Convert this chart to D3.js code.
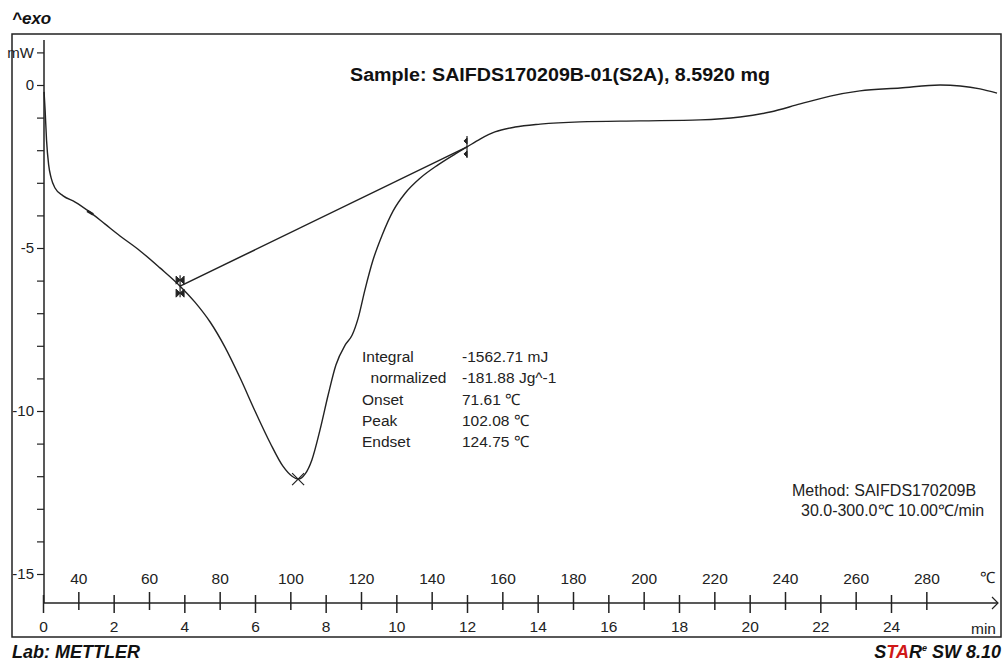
<!DOCTYPE html>
<html>
<head>
<meta charset="utf-8">
<script src="https://cdn.jsdelivr.net/npm/d3@7"></script>
<style>
  body { margin: 0; background: #fff; }
  svg { display: block; font-family: Arial, "Liberation Sans", sans-serif; }
</style>
</head>
<body>
<svg width="1005" height="661"></svg>
<script>
// DSC curve, time in min, heat flow in mW
var timeMin = [0.03, 0.06, 0.10, 0.16, 0.23, 0.34, 0.57, 0.91, 1.33, 1.75, 2.18, 2.75, 3.31, 3.88,
  4.30, 4.73, 5.15, 5.58, 6.00, 6.43, 6.79, 7.05, 7.22, 7.42, 7.61, 7.84, 8.07, 8.29, 8.55, 8.75,
  8.92, 9.11, 9.34, 9.60, 9.91, 10.25, 10.67, 11.18, 11.66, 12.00, 12.37, 12.79, 13.36, 14.07,
  15.2, 16.9, 18.6, 19.73, 20.58, 21.43, 22.28, 23.12, 24.26, 25.39, 25.96, 26.52, 27.0];
var heatFlow = [-0.21, -0.77, -1.69, -2.45, -2.85, -3.16, -3.40, -3.59, -3.90, -4.26, -4.63, -5.09, -5.61, -6.17,
  -6.66, -7.27, -8.04, -8.99, -10.0, -10.98, -11.69, -12.0, -12.09, -11.93, -11.5, -10.58, -9.51, -8.59, -7.98, -7.67,
  -7.15, -6.29, -5.37, -4.60, -3.86, -3.32, -2.86, -2.45, -2.12, -1.90, -1.66, -1.44, -1.29, -1.20,
  -1.13, -1.10, -1.07, -0.98, -0.83, -0.58, -0.34, -0.18, -0.09, 0.0, -0.03, -0.12, -0.25];

var limitTime = [3.88, 12.0];
var limitFlow = [-6.17, -1.90];
var peakTime = 7.22, peakFlow = -12.09;

var timeTicks = d3.range(0, 26, 2);
var tempTicks = d3.range(40, 300, 20);
var flowTicks = d3.range(-15, 2, 1);

var resultLabels = ["Integral", "  normalized", "Onset", "Peak", "Endset"];
var resultValues = ["-1562.71 mJ", "-181.88 Jg^-1", "71.61 \u2103", "102.08 \u2103", "124.75 \u2103"];

var svg = d3.select("svg");
var ink = "#222";

var x = d3.scaleLinear().domain([0, 27]).range([43, 997]);
var xT = d3.scaleLinear().domain([30, 300]).range([43, 997]);
var y = d3.scaleLinear().domain([0, -15]).range([85, 574]);

// frame
svg.append("rect")
  .attr("x", 12).attr("y", 34).attr("width", 989).attr("height", 603)
  .attr("fill", "none").attr("stroke", ink).attr("stroke-width", 1.5);

// y axis
var yAxis = d3.axisLeft(y).tickValues(flowTicks).tickSize(7)
  .tickFormat(function(d){ return d === 1 ? "mW" : (d % 5 === 0 ? d : ""); });
var gy = svg.append("g").attr("transform", "translate(44,0)").call(yAxis);
gy.select(".domain").remove();
gy.selectAll("line").attr("stroke", ink).attr("stroke-width", 1.2);
gy.selectAll("text").attr("fill", ink).style("font-size", "15px").attr("x", -10);
svg.append("line").attr("x1", 44).attr("x2", 44).attr("y1", 40).attr("y2", 603)
  .attr("stroke", ink).attr("stroke-width", 1.5);

// x axes
var axY = 603;
svg.append("line").attr("x1", 43).attr("x2", 998).attr("y1", axY).attr("y2", axY)
  .attr("stroke", ink).attr("stroke-width", 1.5);
svg.append("path").attr("d", "M992,597 L998,603 L992,609")
  .attr("fill", "none").attr("stroke", ink).attr("stroke-width", 1.2);

var gx = svg.append("g").attr("transform", "translate(0," + axY + ")")
  .call(d3.axisBottom(x).tickValues(timeTicks).tickSize(10).tickPadding(8));
gx.select(".domain").remove();
gx.selectAll("line").attr("y1", -8).attr("y2", 10).attr("stroke", ink).attr("stroke-width", 1.5);
gx.selectAll("text").attr("fill", ink).style("font-size", "15.5px");

var gt = svg.append("g").attr("transform", "translate(0," + axY + ")")
  .call(d3.axisTop(xT).tickValues(tempTicks).tickSize(11).tickPadding(8));
gt.select(".domain").remove();
gt.selectAll("line").attr("y1", -11).attr("y2", 7).attr("stroke", ink).attr("stroke-width", 1.5);
gt.selectAll("text").attr("fill", ink).style("font-size", "15.5px");

svg.append("text").attr("x", 987).attr("y", 583).attr("text-anchor", "middle")
  .attr("fill", ink).style("font-size", "15.5px").text("\u2103");
svg.append("text").attr("x", 996).attr("y", 634).attr("text-anchor", "end")
  .attr("fill", ink).style("font-size", "15.5px").text("min");

// baseline between integration limits
svg.append("line")
  .attr("x1", x(limitTime[0])).attr("y1", y(limitFlow[0]))
  .attr("x2", x(limitTime[1])).attr("y2", y(limitFlow[1]))
  .attr("stroke", ink).attr("stroke-width", 1.5);

// curve
var line = d3.line().x(function(d){ return x(d[0]); }).y(function(d){ return y(d[1]); })
  .curve(d3.curveMonotoneX);
svg.append("path").datum(d3.zip(timeMin, heatFlow))
  .attr("d", line).attr("fill", "none").attr("stroke", ink).attr("stroke-width", 1.4);

// small tangent mark on the pre-melt slope
svg.append("line")
  .attr("x1", x(1.25)).attr("y1", y(-3.86)).attr("x2", x(1.42)).attr("y2", y(-3.97))
  .attr("stroke", ink).attr("stroke-width", 2.6);

// limit markers
limitTime.forEach(function(t, i){
  var cx = x(t), cy = y(limitFlow[i]);
  svg.append("line").attr("x1", cx).attr("x2", cx).attr("y1", cy - 11).attr("y2", cy + 11)
    .attr("stroke", ink).attr("stroke-width", 1.2);
  [-6, 7].forEach(function(dy){
    var yy = cy + dy, s = i === 0 ? 4 : 3;
    var p = i === 0
      ? "M" + (cx - s) + "," + (yy - s) + " L" + cx + "," + yy + " L" + (cx - s) + "," + (yy + s) + "Z" +
        "M" + (cx + s) + "," + (yy - s) + " L" + cx + "," + yy + " L" + (cx + s) + "," + (yy + s) + "Z"
      : "M" + cx + "," + (yy - s) + " L" + (cx - s) + "," + yy + " L" + cx + "," + (yy + s) + "Z";
    svg.append("path").attr("d", p).attr("fill", ink).attr("stroke", ink).attr("stroke-width", 1);
  });
});

// peak cross
var px = x(peakTime), py = y(peakFlow);
svg.append("path")
  .attr("d", "M" + (px - 6) + "," + (py - 6) + "L" + (px + 6) + "," + (py + 6) +
             "M" + (px - 6) + "," + (py + 6) + "L" + (px + 6) + "," + (py - 6))
  .attr("stroke", ink).attr("stroke-width", 1.2);

// texts
svg.append("text").attr("x", 12).attr("y", 24).attr("fill", "#111")
  .style("font-size", "17px").style("font-weight", "bold").style("font-style", "italic").text("^exo");
svg.append("text").attr("x", 350).attr("y", 81).attr("fill", "#111")
  .attr("textLength", 420).attr("lengthAdjust", "spacingAndGlyphs")
  .style("font-size", "17.5px").style("font-weight", "bold")
  .text("Sample: SAIFDS170209B-01(S2A), 8.5920 mg");

var res = svg.append("g").style("font-size", "15.5px").attr("fill", ink);
resultLabels.forEach(function(l, i){
  res.append("text").attr("x", 362).attr("y", 362 + i * 21.3).attr("xml:space", "preserve").text(l);
  res.append("text").attr("x", 462).attr("y", 362 + i * 21.3).text(resultValues[i]);
});

svg.append("text").attr("x", 792).attr("y", 496).attr("fill", ink).style("font-size", "16px")
  .text("Method: SAIFDS170209B");
svg.append("text").attr("x", 801).attr("y", 516).attr("fill", ink).style("font-size", "16px")
  .text("30.0-300.0\u2103 10.00\u2103/min");

svg.append("text").attr("x", 12).attr("y", 658).attr("fill", "#111")
  .style("font-size", "18px").style("font-weight", "bold").style("font-style", "italic").text("Lab: METTLER");
var star = svg.append("text").attr("x", 1001).attr("y", 658).attr("text-anchor", "end")
  .style("font-size", "18px").style("font-weight", "bold").style("font-style", "italic").attr("fill", "#111");
star.append("tspan").text("S");
star.append("tspan").attr("fill", "#d01818").text("TA");
star.append("tspan").text("R");
star.append("tspan").attr("dy", -7).style("font-size", "9px").text("e");
star.append("tspan").attr("dy", 7).text(" SW 8.10");
</script>
</body>
</html>
